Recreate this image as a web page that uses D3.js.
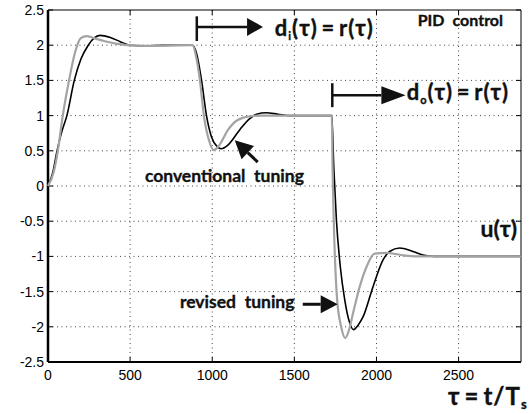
<!DOCTYPE html>
<html>
<head>
<meta charset="utf-8">
<script src="https://cdn.jsdelivr.net/npm/d3@7"></script>
<style>
  body { margin: 0; background: #fff; }
  svg { display: block; }
  .tick-label { font-family: "Liberation Sans", Arial, sans-serif; font-size: 14px; fill: #000; }
  .anno { font-family: Lato, "Open Sans", sans-serif; font-weight: bold; fill: #111; stroke: #111; stroke-width: 0.35px; }
</style>
</head>
<body>
<div id="chart"></div>
<script>
// x ticks and y ticks
const xTicks = [0, 500, 1000, 1500, 2000, 2500];
const yTicks = [-2.5, -2, -1.5, -1, -0.5, 0, 0.5, 1, 1.5, 2, 2.5];

// conventional tuning (black)
const convTau = [0, 30, 55, 85, 115, 160, 200, 245, 280, 316, 380, 440, 500, 600, 700, 880,
  905, 935, 965, 995, 1030, 1056, 1095, 1168, 1225, 1270, 1330, 1400, 1480, 1728,
  1740, 1756, 1780, 1807, 1835, 1860, 1890, 1918, 1979, 2040, 2080, 2141, 2222, 2283, 2350, 2880];
const convU = [0, 0.2, 0.5, 0.78, 1.0, 1.5, 1.8, 2.0, 2.1, 2.14, 2.11, 2.05, 2.0, 1.99, 2.0, 2.0,
  1.88, 1.5, 1.0, 0.7, 0.56, 0.53, 0.58, 0.8, 0.95, 1.02, 1.04, 1.02, 1.0, 1.0,
  0.27, -0.48, -1.15, -1.62, -1.93, -2.04, -1.97, -1.86, -1.43, -1.05, -0.93, -0.88, -0.93, -0.98, -1.0, -1.0];

// revised tuning (gray)
const revTau = [0, 35, 60, 90, 128, 165, 200, 235, 280, 340, 420, 480, 600, 880,
  905, 925, 949, 980, 1010, 1040, 1097, 1150, 1229, 1300, 1728,
  1733, 1740, 1760, 1785, 1810, 1832, 1857, 1898, 1939, 1989, 2060, 2150, 2250, 2880];
const revU = [0, 0.2, 0.5, 1.0, 1.5, 1.9, 2.1, 2.13, 2.1, 2.06, 2.02, 2.0, 1.99, 2.0,
  1.8, 1.5, 1.0, 0.65, 0.51, 0.57, 0.8, 0.93, 0.99, 1.0, 1.0,
  0.2, -0.5, -1.6, -2.0, -2.16, -2.05, -1.81, -1.43, -1.15, -0.96, -0.95, -0.98, -1.0, -1.0];

const width = 529;
const height = 414;
const margin = { top: 10, right: 8, bottom: 52, left: 48 };

const svg = d3.select("#chart")
    .append("svg")
    .attr("width", width)
    .attr("height", height);

const x = d3.scaleLinear().domain([0, 2880]).range([margin.left, width - margin.right]);
const y = d3.scaleLinear().domain([-2.5, 2.5]).range([height - margin.bottom, margin.top]);

const x0 = x.range()[0], x1 = x.range()[1];
const y0 = y.range()[0], y1 = y.range()[1];

// dotted grid
svg.append("g")
    .selectAll("line")
    .data(xTicks.filter(d => d > 0))
    .join("line")
    .attr("x1", d => x(d)).attr("x2", d => x(d))
    .attr("y1", y1).attr("y2", y0)
    .attr("stroke", "#444").attr("stroke-width", 1)
    .attr("stroke-dasharray", "1,3.5");

svg.append("g")
    .selectAll("line")
    .data(yTicks.filter(d => d > -2.5 && d < 2.5))
    .join("line")
    .attr("x1", x0).attr("x2", x1)
    .attr("y1", d => y(d)).attr("y2", d => y(d))
    .attr("stroke", "#444").attr("stroke-width", 1)
    .attr("stroke-dasharray", "1,3.5");

// inward ticks on all four sides
const tickLen = 5;
const tickG = svg.append("g").attr("stroke", "#000").attr("stroke-width", 1);
xTicks.forEach(t => {
    tickG.append("line").attr("x1", x(t)).attr("x2", x(t)).attr("y1", y0).attr("y2", y0 - tickLen);
    tickG.append("line").attr("x1", x(t)).attr("x2", x(t)).attr("y1", y1).attr("y2", y1 + tickLen);
});
yTicks.forEach(t => {
    tickG.append("line").attr("x1", x0).attr("x2", x0 + tickLen).attr("y1", y(t)).attr("y2", y(t));
    tickG.append("line").attr("x1", x1).attr("x2", x1 - tickLen).attr("y1", y(t)).attr("y2", y(t));
});

// box: top/right thin, left/bottom thick
svg.append("line").attr("x1", x0).attr("x2", x1).attr("y1", y1).attr("y2", y1).attr("stroke", "#000").attr("stroke-width", 1);
svg.append("line").attr("x1", x1).attr("x2", x1).attr("y1", y1).attr("y2", y0).attr("stroke", "#000").attr("stroke-width", 1);
svg.append("line").attr("x1", x0).attr("x2", x1).attr("y1", y0).attr("y2", y0).attr("stroke", "#000").attr("stroke-width", 2);
svg.append("line").attr("x1", x0).attr("x2", x0).attr("y1", y1).attr("y2", y0).attr("stroke", "#000").attr("stroke-width", 2.5);

// tick labels
svg.append("g")
    .selectAll("text")
    .data(xTicks)
    .join("text")
    .attr("class", "tick-label")
    .attr("x", d => x(d))
    .attr("y", y0 + 18)
    .attr("text-anchor", "middle")
    .text(d => d);

svg.append("g")
    .selectAll("text")
    .data(yTicks)
    .join("text")
    .attr("class", "tick-label")
    .attr("x", x0 - 4)
    .attr("y", d => y(d))
    .attr("dy", "0.35em")
    .attr("text-anchor", "end")
    .text(d => d);

// curves
const line = d3.line()
    .x(d => x(d[0]))
    .y(d => y(d[1]))
    .curve(d3.curveMonotoneX);

svg.append("path")
    .datum(d3.zip(convTau, convU))
    .attr("fill", "none")
    .attr("stroke", "#000")
    .attr("stroke-width", 1.6)
    .attr("d", line);

svg.append("path")
    .datum(d3.zip(revTau, revU))
    .attr("fill", "none")
    .attr("stroke", "#a3a3a3")
    .attr("stroke-width", 2.2)
    .attr("d", line);

// annotations
function barArrow(tStart, tHead, tTip, yLine, yTop, yBot) {
    const g = svg.append("g");
    g.append("line").attr("x1", x(tStart)).attr("x2", x(tStart)).attr("y1", y(yTop)).attr("y2", y(yBot))
        .attr("stroke", "#111").attr("stroke-width", 2.5);
    g.append("line").attr("x1", x(tStart)).attr("x2", x(tHead)).attr("y1", y(yLine)).attr("y2", y(yLine))
        .attr("stroke", "#111").attr("stroke-width", 2.5);
    g.append("path")
        .attr("d", `M${x(tHead)},${y(yLine) - 9}L${x(tTip)},${y(yLine)}L${x(tHead)},${y(yLine) + 9}Z`)
        .attr("fill", "#111");
}

function arrow(xa, ya, xb, yb, head, half) {
    // from (xa,ya) to tip (xb,yb), pixel units
    const dx = xb - xa, dy = yb - ya;
    const len = Math.sqrt(dx * dx + dy * dy);
    const ux = dx / len, uy = dy / len;
    const bx = xb - ux * head, by = yb - uy * head;
    svg.append("line").attr("x1", xa).attr("y1", ya).attr("x2", bx).attr("y2", by)
        .attr("stroke", "#111").attr("stroke-width", 3);
    svg.append("path")
        .attr("d", `M${xb},${yb}L${bx - uy * half},${by + ux * half}L${bx + uy * half},${by - ux * half}Z`)
        .attr("fill", "#111");
}

function mathLabel(t, v, sub, size) {
    const txt = svg.append("text").attr("class", "anno")
        .attr("x", x(t)).attr("y", y(v))
        .style("font-size", size + "px")
        .style("letter-spacing", "1px");
    txt.append("tspan").text("d");
    txt.append("tspan").attr("dy", 4).style("font-size", (size * 0.5) + "px").text(sub);
    txt.append("tspan").attr("dy", -4).text("(\u03c4)\u2009=\u2009r(\u03c4)");
}

barArrow(906, 1212, 1309, 2.26, 2.41, 2.06);
mathLabel(1381, 2.13, "i", 22);

barArrow(1731, 2030, 2177, 1.29, 1.46, 1.12);
mathLabel(2184, 1.22, "o", 22);

svg.append("text").attr("class", "anno")
    .attr("x", x(2251)).attr("y", y(2.27))
    .style("font-size", "16px")
    .text("PID\u2002control");

svg.append("text").attr("class", "anno")
    .attr("x", x(590)).attr("y", y(0.06))
    .style("font-size", "17.5px")
    .text("conventional\u2002tuning");
arrow(x(1277), y(0.34), x(1137), y(0.65), 18, 9);

svg.append("text").attr("class", "anno")
    .attr("x", x(803)).attr("y", y(-1.74))
    .style("font-size", "17.5px")
    .text("revised\u2002tuning");
arrow(x(1551), y(-1.68), x(1764), y(-1.68), 17, 9);

svg.append("text").attr("class", "anno")
    .attr("x", x1 - 4).attr("y", y(-0.73))
    .attr("text-anchor", "end")
    .style("font-size", "23px")
    .text("u(\u03c4)");

const tl = svg.append("text").attr("class", "anno")
    .attr("x", 448).attr("y", 405)
    .style("font-size", "24px")
    .style("letter-spacing", "1px");
tl.append("tspan").text("\u03c4\u2009=\u2009t/T");
tl.append("tspan").attr("dy", 4).style("font-size", "13px").text("s");
</script>
</body>
</html>
